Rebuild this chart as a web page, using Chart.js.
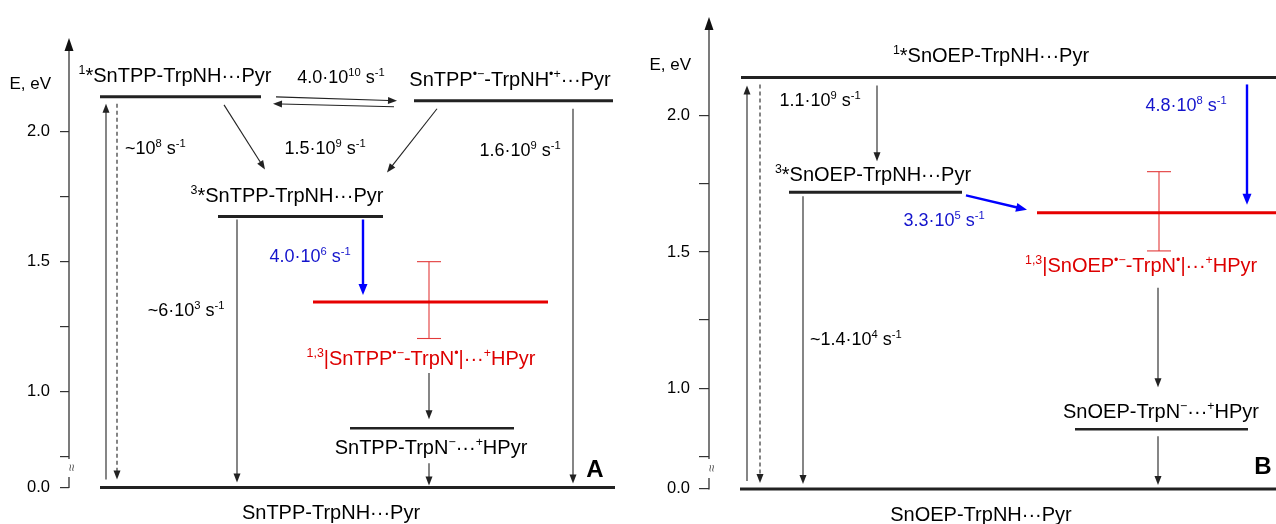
<!DOCTYPE html>
<html><head><meta charset="utf-8">
<script src="https://cdn.jsdelivr.net/npm/chart.js@4.4.1/dist/chart.umd.min.js"></script>
<style>
html,body{margin:0;padding:0;background:#fff;overflow:hidden}
#wrap{position:relative;width:1276px;height:524px}
#ca{position:absolute;left:0;top:0}
#cb{position:absolute;left:630px;top:0}
</style></head><body>
<div id="wrap"><canvas id="ca" width="630" height="524"></canvas><canvas id="cb" width="646" height="524"></canvas></div>
<script>
const FONT = '"Liberation Sans", Arial, Helvetica, sans-serif';
const BLUE = '#0000ff', BLUE_T = '#1414cc', RED = '#e60000', RED_T = '#dd0000', INK = '#222';
const NAME_SIZE = 20, RATE_SIZE = 18;

// ---- shared axis data ----
const TICK_VALUES = [0.0, 0.75, 1.0, 1.25, 1.5, 1.75, 2.0];
const TICK_LABELS = ['0.0', '', '1.0', '', '1.5', '', '2.0'];
const GROUND_AT = 0.63;           // axis position of the broken 0.0 eV
function disp(e){ return e < 0.5 ? GROUND_AT + e : e; }

// ---- Panel A: SnTPP (energies in eV) ----
const statesA = ['S1', 'CT', 'T1', 'RP', 'PT', 'G'];
const energyA = [2.135, 2.12, 1.674, 1.345, 0.858, 0.0];
const rpRangeA = [1.204, 1.5];
const ratesA = ['4.0·10^{10} s^{-1}', '~10^{8} s^{-1}', '1.5·10^{9} s^{-1}', '1.6·10^{9} s^{-1}', '~6·10^{3} s^{-1}', '4.0·10^{6} s^{-1}'];
const namesA = ['^{1}*SnTPP-TrpNH···Pyr', 'SnTPP^{•−}-TrpNH^{•+}···Pyr', '^{3}*SnTPP-TrpNH···Pyr', '^{1,3}|SnTPP^{•−}-TrpN^{•}|···^{+}HPyr', 'SnTPP-TrpN^{−}···^{+}HPyr', 'SnTPP-TrpNH···Pyr'];

// ---- Panel B: SnOEP ----
const statesB = ['S1', 'T1', 'RP', 'PT', 'G'];
const energyB = [2.141, 1.719, 1.644, 0.849, 0.0];
const rpRangeB = [1.504, 1.795];
const ratesB = ['1.1·10^{9} s^{-1}', '4.8·10^{8} s^{-1}', '3.3·10^{5} s^{-1}', '~1.4·10^{4} s^{-1}'];
const namesB = ['^{1}*SnOEP-TrpNH···Pyr', '^{3}*SnOEP-TrpNH···Pyr', '^{1,3}|SnOEP^{•−}-TrpN^{•}|···^{+}HPyr', 'SnOEP-TrpN^{−}···^{+}HPyr', 'SnOEP-TrpNH···Pyr'];

// ---- layout (page px for x, pixel offsets for y) ----
const layoutA = {
  canvas:'ca', xmin:69, xmax:630, ymin:0.566, ymax:2.354, top:40, axisW:69, tickLen:9, tickPad:10,
  states:statesA, energy:energyA, rpRange:rpRangeA, errX:429, capHalf:12,
  levelX:[[100,261],[414,613],[218,383],[313,548],[350,514],[100,615]],
  levelW:[3,3,3,3,2.5,3], levelC:[INK,INK,INK,RED,INK,INK],
  arrows:[
    {x1:106,s1:'G',d1:-8,x2:106,s2:'S1',d2:7},
    {x1:117,s1:'S1',d1:7,x2:117,s2:'G',d2:-8,dash:true},
    {x1:224,s1:'S1',d1:8,x2:265,s2:'T1',d2:-47},
    {x1:437,s1:'CT',d1:8,x2:387,s2:'T1',d2:-44},
    {x1:276,s1:'S1',d1:0,x2:397,s2:'CT',d2:0},
    {x1:394,s1:'CT',d1:6,x2:273,s2:'S1',d2:7},
    {x1:573,s1:'CT',d1:8,x2:573,s2:'G',d2:-4},
    {x1:237,s1:'T1',d1:3,x2:237,s2:'G',d2:-5},
    {x1:363,s1:'T1',d1:3,x2:363,s2:'RP',d2:-7,blue:true},
    {x1:429,s1:'RP',d1:71,x2:429,s2:'PT',d2:-9},
    {x1:429,s1:'PT',d1:35,x2:429,s2:'G',d2:-2}
  ],
  labels:[
    {t:namesA[0],x:175,s:'S1',dy:-22,size:NAME_SIZE},
    {t:namesA[1],x:510,s:'CT',dy:-22,size:NAME_SIZE},
    {t:ratesA[0],x:341,s:'S1',dy:-20,size:RATE_SIZE},
    {t:ratesA[1],x:125,s:'S1',dy:51,size:RATE_SIZE,align:'left'},
    {t:ratesA[2],x:325,s:'S1',dy:51,size:RATE_SIZE},
    {t:ratesA[3],x:520,s:'CT',dy:49,size:RATE_SIZE},
    {t:namesA[2],x:287,s:'T1',dy:-22,size:NAME_SIZE},
    {t:ratesA[4],x:186,s:'T1',dy:93,size:RATE_SIZE},
    {t:ratesA[5],x:310,s:'T1',dy:39,size:RATE_SIZE,color:BLUE_T},
    {t:namesA[3],x:421,s:'RP',dy:56,size:NAME_SIZE,color:RED_T},
    {t:namesA[4],x:431,s:'PT',dy:18,size:NAME_SIZE},
    {t:namesA[5],x:331,s:'G',dy:24,size:NAME_SIZE},
    {t:'A',x:595,s:'G',dy:-19,size:24,bold:true}
  ]
};
const layoutB = {
  canvas:'cb', xmin:709, xmax:1276, ymin:0.571, ymax:2.356, top:14, axisW:79, tickLen:10, tickPad:9,
  states:statesB, energy:energyB, rpRange:rpRangeB, errX:1159, capHalf:12,
  levelX:[[741,1276],[789,962],[1037,1276],[1075,1248],[740,1276]],
  levelW:[3,3,3,2.5,3], levelC:[INK,INK,RED,INK,INK],
  arrows:[
    {x1:747,s1:'G',d1:-8,x2:747,s2:'S1',d2:8},
    {x1:760,s1:'S1',d1:7,x2:760,s2:'G',d2:-6,dash:true},
    {x1:877,s1:'S1',d1:8,x2:877,s2:'T1',d2:-31},
    {x1:803,s1:'T1',d1:4,x2:803,s2:'G',d2:-5},
    {x1:966,s1:'T1',d1:3,x2:1027,s2:'RP',d2:-3,blue:true},
    {x1:1247,s1:'S1',d1:7,x2:1247,s2:'RP',d2:-8,blue:true},
    {x1:1158,s1:'RP',d1:75,x2:1158,s2:'PT',d2:-42},
    {x1:1158,s1:'PT',d1:7,x2:1158,s2:'G',d2:-4}
  ],
  labels:[
    {t:namesB[0],x:991,s:'S1',dy:-23,size:NAME_SIZE},
    {t:ratesB[0],x:820,s:'S1',dy:22,size:RATE_SIZE},
    {t:namesB[1],x:873,s:'T1',dy:-19,size:NAME_SIZE},
    {t:ratesB[1],x:1186,s:'S1',dy:27,size:RATE_SIZE,color:BLUE_T},
    {t:ratesB[2],x:944,s:'T1',dy:27,size:RATE_SIZE,color:BLUE_T},
    {t:namesB[2],x:1025,s:'RP',dy:52,size:NAME_SIZE,color:RED_T,align:'left'},
    {t:ratesB[3],x:810,s:'T1',dy:146,size:RATE_SIZE,align:'left'},
    {t:namesB[3],x:1161,s:'PT',dy:-18,size:NAME_SIZE},
    {t:namesB[4],x:981,s:'G',dy:25,size:NAME_SIZE},
    {t:'B',x:1263,s:'G',dy:-24,size:24,bold:true}
  ]
};

function richDraw(ctx, str, x, y, o){
  const size=o.size, supSize=size*0.62, rise=size*0.4;
  const parts=[]; const re=/\^\{([^}]*)\}/g; let last=0, m;
  while((m=re.exec(str))){ if(m.index>last) parts.push({s:str.slice(last,m.index),sup:false}); parts.push({s:m[1],sup:true}); last=re.lastIndex; }
  if(last<str.length) parts.push({s:str.slice(last),sup:false});
  const w=o.bold?'bold ':'';
  const fN=w+size+'px '+FONT, fS=w+supSize.toFixed(1)+'px '+FONT;
  let total=0;
  parts.forEach(p=>{ ctx.font=p.sup?fS:fN; p.w=ctx.measureText(p.s).width; total+=p.w; });
  let cx = o.align==='left'? x : (o.align==='right'? x-total : x-total/2);
  const base=y+size*0.36;
  ctx.fillStyle=o.color||'#000'; ctx.textAlign='left'; ctx.textBaseline='alphabetic';
  parts.forEach(p=>{ ctx.font=p.sup?fS:fN; ctx.fillText(p.s, cx, p.sup? base-rise : base); cx+=p.w; });
}

function drawArrow(ctx, x1,y1,x2,y2,o){
  const L=o.head, H=o.hw;
  const dx=x2-x1, dy=y2-y1, len=Math.hypot(dx,dy), ux=dx/len, uy=dy/len;
  const bx=x2-ux*L, by=y2-uy*L;
  ctx.save();
  ctx.strokeStyle=o.color; ctx.fillStyle=o.color; ctx.lineWidth=o.width;
  if(o.dash) ctx.setLineDash([4,3]);
  ctx.beginPath(); ctx.moveTo(x1,y1); ctx.lineTo(bx+ux*1,by+uy*1); ctx.stroke();
  ctx.setLineDash([]);
  ctx.beginPath(); ctx.moveTo(x2,y2); ctx.lineTo(bx-uy*H,by+ux*H); ctx.lineTo(bx+uy*H,by-ux*H); ctx.closePath(); ctx.fill();
  ctx.restore();
}

function overlay(P){
  return {
    id:'overlay',
    afterDatasetsDraw(chart){
      const ctx=chart.ctx, xs=chart.scales.x, ys=chart.scales.y, ca=chart.chartArea;
      const yOf=s=>ys.getPixelForValue(disp(P.energy[P.states.indexOf(s)]));
      // axis
      const ax=ca.left;
      ctx.save();
      ctx.strokeStyle='#333'; ctx.fillStyle='#111'; ctx.lineWidth=1.3;
      ctx.beginPath(); ctx.moveTo(ax, ca.top+8); ctx.lineTo(ax, ys.getPixelForValue(0.74)); ctx.stroke();
      ctx.beginPath(); ctx.moveTo(ax, ys.getPixelForValue(0.67)); ctx.lineTo(ax, ys.getPixelForValue(GROUND_AT)+0.6); ctx.stroke();
      ctx.beginPath(); ctx.moveTo(ax, ca.top-2); ctx.lineTo(ax-4.5, ca.top+11); ctx.lineTo(ax+4.5, ca.top+11); ctx.closePath(); ctx.fill();
      // break mark
      ctx.translate(ax+3, ys.getPixelForValue(0.705)); ctx.rotate(-Math.PI/2);
      ctx.fillStyle='#555'; ctx.font='13px '+FONT; ctx.textAlign='center'; ctx.textBaseline='middle';
      ctx.fillText('≈',0,0);
      ctx.restore();
      richDraw(ctx,'E, eV', ax-18, ys.getPixelForValue(2.19), {size:17, align:'right'});
      // arrows
      P.arrows.forEach(a=>{
        const x1=xs.getPixelForValue(a.x1), x2=xs.getPixelForValue(a.x2);
        const y1=yOf(a.s1)+a.d1, y2=yOf(a.s2)+a.d2;
        if(a.blue) drawArrow(ctx,x1,y1,x2,y2,{color:BLUE,width:2.4,head:11,hw:4.5});
        else drawArrow(ctx,x1,y1,x2,y2,{color:INK,width:1.1,head:9,hw:3.5,dash:a.dash});
      });
      // labels
      P.labels.forEach(l=>{
        richDraw(ctx,l.t,xs.getPixelForValue(l.x),yOf(l.s)+l.dy,{size:l.size,color:l.color,align:l.align,bold:l.bold});
      });
    }
  };
}

function makeChart(P){
  const datasets=[];
  P.states.forEach((s,i)=>{
    const y=disp(P.energy[i]);
    datasets.push({data:[{x:P.levelX[i][0],y},{x:P.levelX[i][1],y}], borderColor:P.levelC[i], borderWidth:P.levelW[i], pointRadius:0, fill:false, clip:false});
  });
  const [lo,hi]=P.rpRange, xc=P.errX, cw=P.capHalf, EB='#e23a3a';
  datasets.push({data:[{x:xc,y:lo},{x:xc,y:hi}], borderColor:EB, borderWidth:1.1, pointRadius:0, clip:false});
  datasets.push({data:[{x:xc-cw,y:lo},{x:xc+cw,y:lo}], borderColor:EB, borderWidth:1.1, pointRadius:0, clip:false});
  datasets.push({data:[{x:xc-cw,y:hi},{x:xc+cw,y:hi}], borderColor:EB, borderWidth:1.1, pointRadius:0, clip:false});
  return new Chart(document.getElementById(P.canvas),{
    type:'line',
    data:{datasets},
    options:{
      responsive:false, animation:false, events:[],
      layout:{padding:{top:P.top,bottom:19,left:0,right:0}},
      plugins:{legend:{display:false},tooltip:{enabled:false}},
      scales:{
        x:{type:'linear',display:false,min:P.xmin,max:P.xmax},
        y:{type:'linear',min:P.ymin,max:P.ymax,
          afterBuildTicks:s=>{ s.ticks=TICK_VALUES.map(v=>({value:disp(v)})); },
          afterFit:s=>{ s.width=P.axisW; },
          ticks:{autoSkip:false, callback:(v,i)=>TICK_LABELS[i], font:{size:16.5,family:FONT}, color:'#000', padding:P.tickPad},
          grid:{drawOnChartArea:false, drawTicks:true, tickLength:P.tickLen, color:'#333', lineWidth:1.2},
          border:{display:false}
        }
      }
    },
    plugins:[overlay(P)]
  });
}
makeChart(layoutA);
makeChart(layoutB);
</script>
</body></html>
